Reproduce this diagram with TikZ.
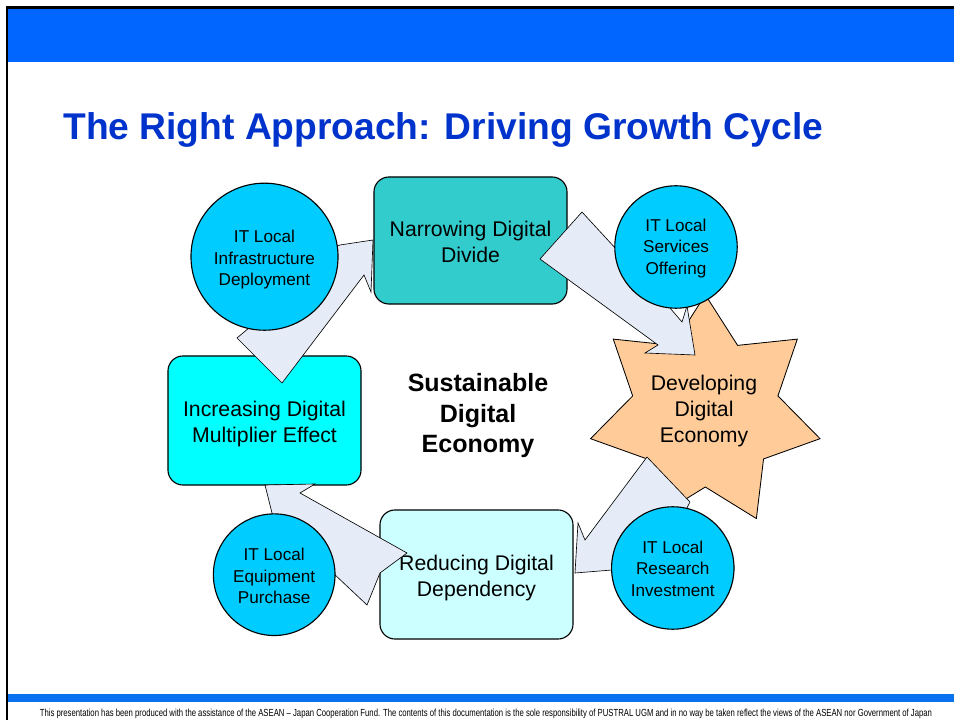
\documentclass[tikz,border=0pt]{standalone}
\usepackage{fontspec}
\setmainfont{Liberation Sans}
\usepackage{graphicx}
\usetikzlibrary{calc}
\definecolor{topblue}{HTML}{0066FF}
\definecolor{botblue}{HTML}{0A72F0}
\definecolor{titleblue}{HTML}{0033CC}
\definecolor{tealbox}{HTML}{33CCCC}
\definecolor{cyanbox}{HTML}{00FFFF}
\definecolor{palebox}{HTML}{CCFFFF}
\definecolor{circfill}{HTML}{00CCFF}
\definecolor{starfill}{HTML}{FFCC99}
\definecolor{arrowfill}{HTML}{E6ECF7}
\begin{document}
\begin{tikzpicture}[x=0.025cm,y=-0.025cm,
  boxstyle/.style={draw=black, line width=0.8pt, rounded corners=0.375cm,
    minimum width=4.825cm, inner sep=0pt},
  boxtext/.style={align=center, inner sep=0pt, font=\fontsize{15.1}{18.5}\selectfont},
  circ/.style={circle, draw=black, line width=0.8pt, fill=circfill, inner sep=0pt},
  circtext/.style={align=center, inner sep=0pt, font=\fontsize{12.2}{15.3}\selectfont},
  arrowshape/.style={draw=black, line width=0.45pt, fill=arrowfill, line join=miter},
  starstyle/.style={draw=black, line width=0.6pt, fill=starfill}]
\useasboundingbox (0,0) rectangle (954,720);
% frame
\fill[topblue] (8,8.5) rectangle (954,62.5);
\fill[botblue] (8,694.3) rectangle (954,702.3);
\draw[black, line width=1.9pt] (6,7.3) -- (954,7.3);
\draw[black, line width=1.6pt] (7.2,6) -- (7.2,720);
% title
\node[anchor=base west, inner sep=0pt, text=titleblue,
  font=\fontsize{26.45}{30}\selectfont\bfseries] (title) at (63,140)
  {The Right Approach: Driving Growth Cycle};
% footer
\node[anchor=base, inner sep=0pt] (footer) at (486,716.7)
  {\resizebox{22.3cm}{\height}{\fontsize{7.3}{8}\selectfont This presentation has been produced with the assistance of the ASEAN -- Japan Cooperation Fund. The contents of this documentation is the sole responsibility of PUSTRAL UGM and in no way be taken reflect the views of the ASEAN nor Government of Japan}};
% boxes
\node[boxstyle, fill=tealbox, minimum height=3.175cm] (narrow) at (470.5,240.5) {};
\node[boxstyle, fill=cyanbox, minimum height=3.225cm] (incr) at (264.5,420.5) {};
\node[boxstyle, fill=palebox, minimum height=3.225cm] (reduce) at (476.5,574.5) {};
\node[boxtext] (narrowtext) at ([yshift=-0.04cm]narrow.center) {Narrowing Digital\\Divide};
\node[boxtext] (incrtext) at ([yshift=-0.1cm]incr.center) {Increasing Digital\\Multiplier Effect};
\node[boxtext] (reducetext) at ([yshift=-0.1cm]reduce.center) {Reducing Digital\\Dependency};
% star
\coordinate (sc) at (705.3,412.5);
\filldraw[starstyle] ($(sc)+(0,-117.7)$)
  \foreach \i in {0,...,6} {
    -- ($(sc)+({cos(-90+\i*360/7+180/7)*74.5},{sin(-90+\i*360/7+180/7)*74.5})$)
    -- ($(sc)+({cos(-90+(\i+1)*360/7)*117.7},{sin(-90+(\i+1)*360/7)*117.7})$)
  } -- cycle;
\node[boxtext] (dev) at (704,411)
  {Developing\\Digital\\Economy};
% centre text
\node[align=center, inner sep=0pt, font=\fontsize{17.8}{21.7}\selectfont\bfseries] (centre) at (478,416)
  {Sustainable\\Digital\\Economy};
% block arrows
\filldraw[arrowshape] (282,383) -- (237,338) -- (256,322) -- (300,262) -- (340,245)
  -- (373,240) -- (371,292) -- (364,275) -- cycle;
\filldraw[arrowshape] (540,259) -- (582,212) -- (640,275) -- (670,308) -- (682,322)
  -- (687,306) -- (695,355) -- (645,353) -- (658,345) -- cycle;
\filldraw[arrowshape] (647,457) -- (690,502) -- (660,560) -- (612,570) -- (575,573)
  -- (578,523) -- (585,540) -- cycle;
\filldraw[arrowshape] (265,485) -- (315,484) -- (300,493) -- (407,553) -- (380,573)
  -- (367,605) -- (333,573) -- (285,545) -- (272,513) -- cycle;
% circles
\node[circ, minimum size=3.675cm] (infra) at (264.5,256.7) {};
\node[circ, minimum size=3.06cm] (serv) at (676,247) {};
\node[circ, minimum size=3.06cm] (research) at (672.8,568) {};
\node[circ, minimum size=3.04cm] (equip) at (274.2,574.7) {};
\node[circtext] (infratext) at ([yshift=-0.075cm]infra.center) {IT Local\\Infrastructure\\Deployment};
\node[circtext] (servtext) at ([yshift=-0.03cm]serv.center) {IT Local\\Services\\Offering};
\node[circtext] (researchtext) at ([yshift=-0.02cm]research.center) {IT Local\\Research\\Investment};
\node[circtext] (equiptext) at ([yshift=-0.03cm]equip.center) {IT Local\\Equipment\\Purchase};
\end{tikzpicture}
\end{document}
